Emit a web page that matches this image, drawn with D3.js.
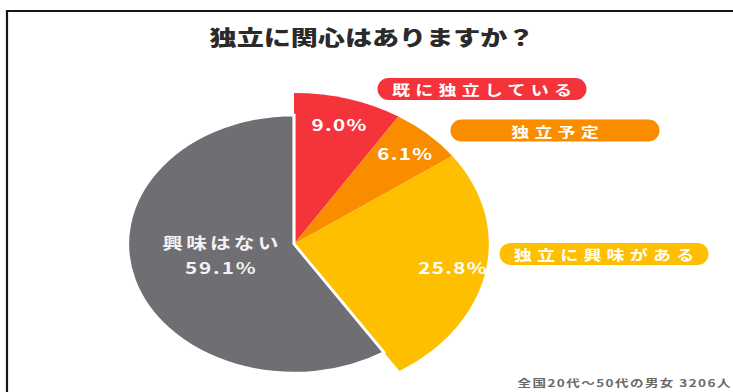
<!DOCTYPE html>
<html>
<head>
<meta charset="utf-8">
<script src="https://cdn.jsdelivr.net/npm/d3@7"></script>
<style>
  html, body { margin: 0; padding: 0; background: #ffffff; }
  svg { display: block; }
  text { font-family: "Noto Sans CJK JP", "Noto Sans", sans-serif; }
</style>
</head>
<body>
<svg id="chart" width="733" height="392"></svg>
<script>
// Survey answers, clockwise from 12 o'clock
const categories = ["既に独立している", "独立予定", "独立に興味がある", "興味はない"];
const values = [9.0, 6.1, 25.8, 59.1];
const colors = ["#f5333a", "#fa8c00", "#fdbf00", "#6f6e73"];
const valueLabels = ["9.0%", "6.1%", "25.8%", "59.1%"];
const title = "独立に関心はありますか？";
const note = "全国20代～50代の男女 3206人";

const W = 733, H = 392;
const sx = 1.29;              // horizontal stretch of the whole artwork
const cx = 294, cy = 244;     // pie centre
const rBig = 151, rSmall = 129;
const restIdx = categories.length - 1;   // "no interest" slice is drawn smaller

const svg = d3.select("#chart");

// frame
svg.append("path")
  .attr("d", `M7,${H} V11 H${W}`)
  .attr("fill", "none")
  .attr("stroke", "#151515")
  .attr("stroke-width", 2.2);

// text helper: centred, horizontally stretched like the artwork
function stretchedText(g, x, y, str, opts) {
  const sp = opts.spacing || 0;
  return g.append("text")
    .attr("transform", `translate(${x + (sp * sx) / 2},${y}) scale(${sx},1)`)
    .attr("text-anchor", "middle")
    .attr("dominant-baseline", "central")
    .attr("font-size", opts.size)
    .attr("font-weight", opts.weight || 700)
    .attr("letter-spacing", sp)
    .attr("fill", opts.fill)
    .text(str);
}
stretchedText(svg, 372, 36, title, { size: 21, weight: 900, fill: "#2a2a2a" });

// pie
const pie = d3.pie().sort(null).value(d => d.value);
const rows = categories.map((c, i) => ({ category: c, value: values[i], color: colors[i], label: valueLabels[i], i }));
const arcs = pie(rows);

const arcFor = d => d3.arc()
  .innerRadius(0)
  .outerRadius(d.data.i === restIdx ? rSmall : rBig);

const pieG = svg.append("g").attr("transform", `translate(${cx},${cy}) scale(${sx},1)`);

// coloured slices first, then the grey one with a white outline on top
const order = arcs.filter(d => d.data.i !== restIdx).concat(arcs.filter(d => d.data.i === restIdx));
pieG.selectAll("path.slice")
  .data(order)
  .join("path")
  .attr("class", "slice")
  .attr("d", d => arcFor(d)(d))
  .attr("fill", d => d.data.color)
  .attr("stroke", d => d.data.i === restIdx ? "#ffffff" : "none")
  .attr("stroke-width", 2.4)
  .attr("stroke-linejoin", "miter");

// value labels
const labelArc = d3.arc().innerRadius(125).outerRadius(125);
const labelsG = svg.append("g");
arcs.forEach(d => {
  if (d.data.i === restIdx) {
    const a = (260 * Math.PI) / 180, r = 58;
    const x = cx + Math.sin(a) * r * sx, y = cy - Math.cos(a) * r;
    stretchedText(labelsG, x, y - 12, d.data.category, { size: 16, weight: 700, spacing: 2.5, fill: "#f2f2f2" });
    stretchedText(labelsG, x, y + 13, d.data.label, { size: 16, weight: 700, spacing: 1.5, fill: "#f2f2f2" });
  } else {
    const [x, y] = labelArc.centroid(d);
    stretchedText(labelsG, cx + x * sx, cy + y, d.data.label, { size: 16, weight: 700, spacing: 1, fill: "#ffffff" });
  }
});

// pill-shaped category tags
const pillW = 209, pillH = 22;
const pillCenters = [[482, 89], [555, 130.5], [604, 254]];
const pillG = svg.append("g");
rows.filter(r => r.i !== restIdx).forEach((r, k) => {
  const [px, py] = pillCenters[k];
  pillG.append("rect")
    .attr("x", px - pillW / 2).attr("y", py - pillH / 2)
    .attr("width", pillW).attr("height", pillH)
    .attr("rx", pillH / 2).attr("ry", pillH / 2)
    .attr("fill", r.color);
  stretchedText(pillG, px, py, r.category, { size: 14, weight: 700, spacing: 4, fill: "#ffffff" });
});

// footnote
stretchedText(svg, 624, 382, note, { size: 10.5, weight: 700, spacing: 1.1, fill: "#6a6a6a" });
</script>
</body>
</html>
